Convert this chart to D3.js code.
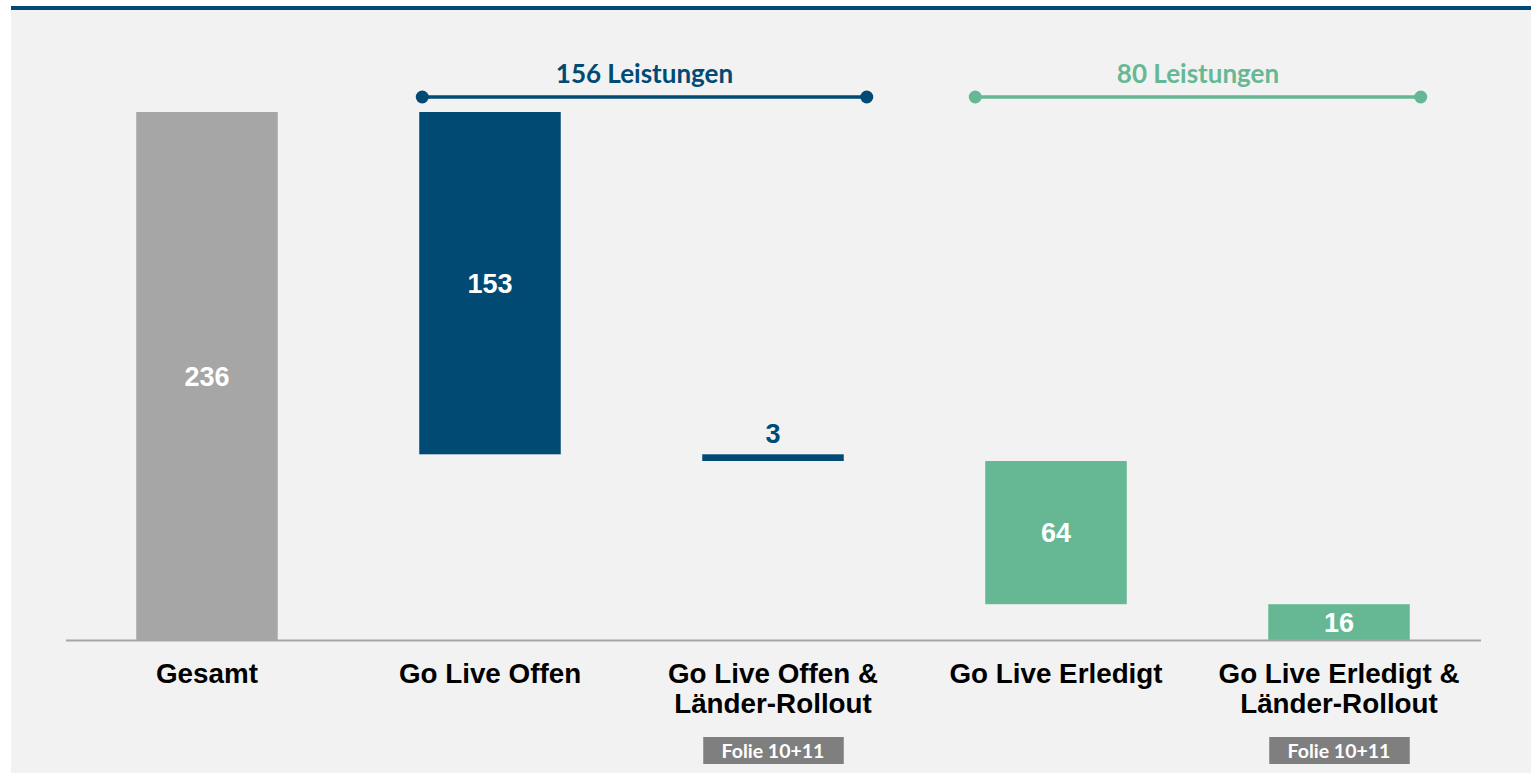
<!DOCTYPE html>
<html><head><meta charset="utf-8">
<script src="https://cdn.jsdelivr.net/npm/d3@7"></script>
<style>
html,body{margin:0;padding:0;background:#ffffff;}
svg{display:block;}
</style></head>
<body>
<svg id="chart" width="1531" height="773"></svg>
<script>
// ---- data ----
const categories = ["Gesamt", "Go Live Offen", "Go Live Offen &\nLänder-Rollout", "Go Live Erledigt", "Go Live Erledigt &\nLänder-Rollout"];
const values = [236, 153, 3, 64, 16];
const kinds = ["total", "open", "open", "done", "done"];
const badges = [null, null, "Folie 10+11", null, "Folie 10+11"];
const groupLabels = ["156 Leistungen", "80 Leistungen"];
const groupRanges = [[1, 2], [3, 4]];

const colors = {total: "#a6a6a6", open: "#004a74", done: "#66b894"};
const groupColors = [colors.open, colors.done];

// ---- layout ----
const svg = d3.select("#chart");
const W = 1531, H = 773;
svg.append("rect").attr("x", 11).attr("y", 10).attr("width", W - 11).attr("height", H - 10).attr("fill", "#f2f2f2");
svg.append("rect").attr("x", 11).attr("y", 6).attr("width", W - 11).attr("height", 4).attr("fill", "#004a74");

const x = d3.scaleBand().domain(categories).range([65.5, 1480.5]).paddingInner(0.5).paddingOuter(0.25);
const y = d3.scaleLinear().domain([0, 236]).range([640, 112]);

// waterfall: first is total, rest descend
const segs = [];
let level = values[0];
values.forEach((v, i) => {
  if (i === 0) segs.push({y0: 0, y1: v});
  else { segs.push({y0: level - v, y1: level}); level -= v; }
});

const g = svg.append("g");
g.selectAll("rect.bar").data(categories).join("rect")
  .attr("class", "bar")
  .attr("x", d => x(d))
  .attr("width", x.bandwidth())
  .attr("y", (d, i) => y(segs[i].y1))
  .attr("height", (d, i) => y(segs[i].y0) - y(segs[i].y1))
  .attr("fill", (d, i) => colors[kinds[i]]);

// axis baseline
const axis = d3.axisBottom(x).tickSize(0).tickFormat("");
const ax = svg.append("g").attr("transform", "translate(0,640)").call(axis);
ax.select(".domain").attr("stroke", "#a6a6a6").attr("stroke-width", 2);

// value labels
g.selectAll("text.val").data(categories).join("text")
  .attr("class", "val")
  .attr("x", d => x(d) + x.bandwidth() / 2)
  .attr("y", (d, i) => {
    const h = y(segs[i].y0) - y(segs[i].y1);
    if (h < 20) return y(segs[i].y1) - 11;
    return (y(segs[i].y0) + y(segs[i].y1)) / 2 + 9.5;
  })
  .attr("text-anchor", "middle")
  .attr("font-family", "Liberation Sans, Arial, sans-serif")
  .attr("font-weight", "bold")
  .attr("font-size", 27)
  .attr("fill", (d, i) => (y(segs[i].y0) - y(segs[i].y1)) < 20 ? colors[kinds[i]] : "#ffffff")
  .text((d, i) => values[i]);

// category labels
categories.forEach((c, i) => {
  const lines = c.split("\n");
  const t = svg.append("text")
    .attr("x", x(c) + x.bandwidth() / 2)
    .attr("y", 683)
    .attr("text-anchor", "middle")
    .attr("font-family", "Liberation Sans, Arial, sans-serif")
    .attr("font-weight", "bold")
    .attr("font-size", 27.8)
    .attr("fill", "#000");
  lines.forEach((l, j) => t.append("tspan").attr("x", x(c) + x.bandwidth() / 2).attr("dy", j === 0 ? 0 : 30).text(l));
  if (badges[i]) {
    svg.append("rect").attr("x", x(c) + 1).attr("y", 737).attr("width", x.bandwidth() - 1).attr("height", 27).attr("fill", "#7f7f7f");
    svg.append("text").attr("x", x(c) + x.bandwidth() / 2).attr("y", 757.5)
      .attr("text-anchor", "middle")
      .attr("font-family", "Lato, sans-serif").attr("font-weight", "bold").attr("font-size", 19.5)
      .attr("fill", "#ffffff").text(badges[i]);
  }
});

// group brackets
groupRanges.forEach((r, k) => {
  const x0 = k === 0 ? x(categories[r[0]]) + 3 : x(categories[r[0]]) - 10;
  const x1 = k === 0 ? x(categories[r[1]]) + x.bandwidth() + 23 : x(categories[r[1]]) + x.bandwidth() + 11;
  const col = groupColors[k];
  svg.append("line").attr("x1", x0).attr("x2", x1).attr("y1", 97).attr("y2", 97).attr("stroke", col).attr("stroke-width", 3.5);
  [x0, x1].forEach(cx => svg.append("circle").attr("cx", cx).attr("cy", 97).attr("r", 6.5).attr("fill", col));
  svg.append("text").attr("x", (x0 + x1) / 2).attr("y", 83)
    .attr("text-anchor", "middle")
    .attr("font-family", "Lato, sans-serif").attr("font-weight", "bold").attr("font-size", 26)
    .attr("fill", col).text(groupLabels[k]);
});
</script>
</body></html>
